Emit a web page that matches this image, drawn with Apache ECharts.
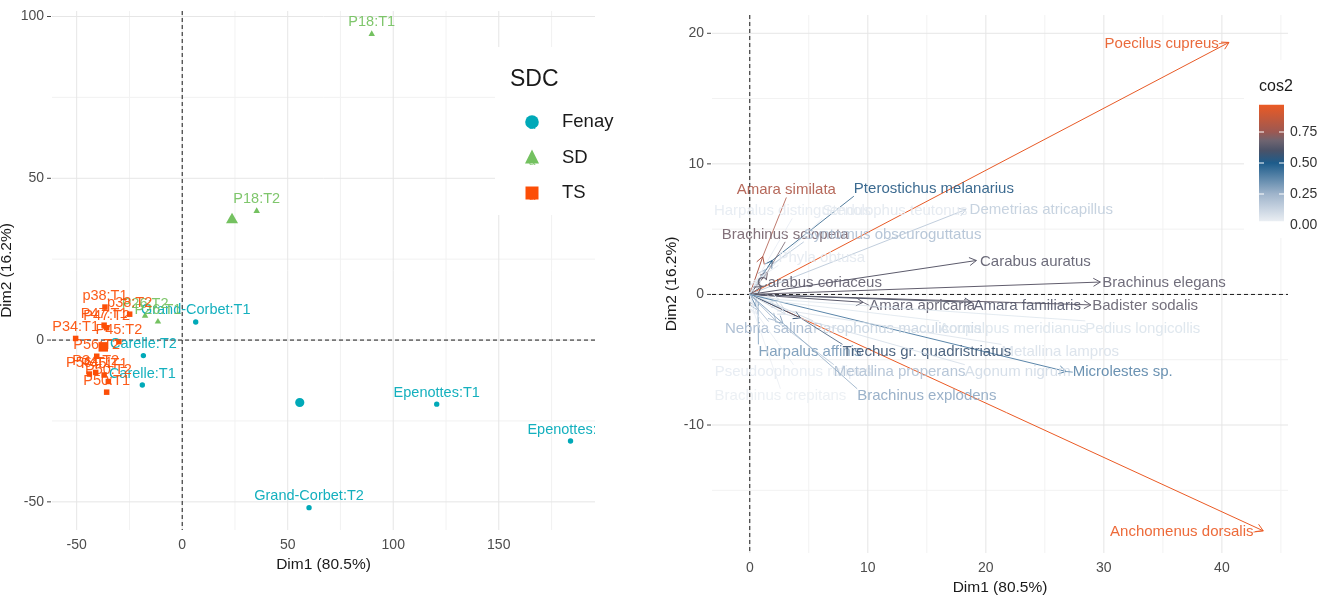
<!DOCTYPE html>
<html><head><meta charset="utf-8">
<script src="https://cdn.jsdelivr.net/npm/echarts@6/dist/echarts.min.js"></script>
<style>html,body{margin:0;padding:0;background:#fff}#c{width:1330px;height:595px}</style>
</head><body><div id="c"></div>
<script>
const FONT = '"Liberation Sans", Arial, sans-serif';

// ---------- LEFT PANEL: individuals ----------
const groupNames = ['Fenay', 'SD', 'TS'];
const indNames = ['Grand-Corbet:T1','Carelle:T2','Carelle:T1','Epenottes:T1','Epenottes:T2','Grand-Corbet:T2',
  'P18:T1','P18:T2','P26:T1','P26:T2',
  'p38:T1','p38:T2','P47:T2','P47:T1','P34:T1','P45:T2','P56:T2','P56:T1','P34:T2','P45:T1','P50:T2','P50:T1'];
const indX = [6.4,-18.4,-18.9,120.6,184.0,60.1, 89.8,35.3,-11.5,-17.6,
  -36.6,-24.9,-35.8,-37.0,-50.5,-30.0,-40.5,-44.0,-41.0,-37.0,-35.0,-35.8];
const indY = [5.6,-4.8,-13.9,-19.8,-31.2,-51.8, 94.7,40.0,5.8,7.6,
  10.2,8.0,3.8,4.6,0.5,-0.5,-5.0,-10.5,-10.0,-10.8,-12.8,-16.1];
const indGroup = [0,0,0,0,0,0, 1,1,1,1, 2,2,2,2,2,2,2,2,2,2,2,2];
const centroidX = [55.7, 23.6, -37.4];
const centroidY = [-19.3, 37.4, -2.1];

const leftXTicks = [-50, 0, 50, 100, 150];
const leftXMinor = [-25, 25, 75, 125, 175];
const leftYTicks = [-50, 0, 50, 100];
const leftYMinor = [-25, 25, 75];

// ---------- RIGHT PANEL: variables ----------
const varNames = ['Poecilus cupreus','Anchomenus dorsalis','Amara similata','Pterostichus melanarius','Brachinus sclopeta',
  'Harpalus distinguendus','Stenolophus teutonus','Demetrias atricapillus','Syntomus obscuroguttatus','Phyla obtusa',
  'Carabus auratus','Carabus coriaceus','Brachinus elegans','Badister sodalis','Amara familiaris','Amara apricaria',
  'Nebria salina','Parophonus maculicornis','Acupalpus meridianus','Pedius longicollis',
  'Harpalus affinis','Metallina lampros','Trechus gr. quadristriatus',
  'Pseudoophonus rufipes','Metallina properans','Agonum nigrum','Microlestes sp.',
  'Brachinus crepitans','Brachinus explodens'];
const varX = [40.6,43.5,1.1,1.9,1.5, 0.5,0.7,18.3,1.3,0.9, 19.2,1.0,29.7,28.9,18.8,9.6, 0.5,2.5,2.0,2.5, 0.7,3.0,4.3, 0.6,2.2,3.0,26.8, 0.4,2.8];
const varY = [19.3,-18.1,2.9,2.6,1.7, 1.0,1.1,6.5,1.9,1.3, 2.6,0.6,0.95,-0.8,-0.6,-0.6, -0.9,-0.9,-0.5,-0.4, -1.2,-1.2,-1.8, -1.5,-2.0,-1.5,-5.9, -1.5,-2.2];
const varCos2 = [0.96,0.97,0.80,0.52,0.69, 0.04,0.05,0.15,0.20,0.05, 0.64,0.65,0.65,0.66,0.62,0.64, 0.23,0.13,0.07,0.07, 0.33,0.08,0.57, 0.04,0.20,0.10,0.38, 0.03,0.28];
const varLabelX = [34.9,36.6,3.1,15.6,3.0, 3.6,12.3,24.7,12.1,6.1, 24.2,5.9,35.1,33.5,23.5,14.6, 1.6,12.5,22.3,33.3, 5.1,26.3,15.0, 3.7,12.7,22.7,31.6, 2.6,15.0];
const varLabelY = [19.2,-18.2,8.0,8.1,4.6, 6.4,6.4,6.5,4.6,2.8, 2.5,0.9,0.9,-0.84,-0.84,-0.84, -2.65,-2.6,-2.6,-2.6, -4.4,-4.4,-4.4, -5.95,-5.95,-5.95,-5.95, -7.8,-7.8];

const rightXTicks = [0, 10, 20, 30, 40];
const rightXMinor = [5, 15, 25, 35, 45];
const rightYTicks = [-10, 0, 10, 20];
const rightYMinor = [-15, -5, 5, 15];
const cos2Ticks = [0, 0.25, 0.5, 0.75];

// ---------- styles ----------
const groupColors = ['#00A9B8', '#74C160', '#FC4E07'];
const cos2StopVals = [0, 0.25, 0.5, 0.6, 0.68, 0.75, 1];
const cos2StopCols = ['#F4F6F9', '#9FB4CB', '#1D5C8B', '#4A5268', '#6E6470', '#9C5852', '#F65A1E'];

function hex2rgb(h){ return [parseInt(h.substr(1,2),16), parseInt(h.substr(3,2),16), parseInt(h.substr(5,2),16)]; }
function cos2Color(v){
  if (v <= cos2StopVals[0]) return cos2StopCols[0];
  for (let i = 1; i < cos2StopVals.length; i++) {
    if (v <= cos2StopVals[i]) {
      const t = (v - cos2StopVals[i-1]) / (cos2StopVals[i] - cos2StopVals[i-1]);
      const a = hex2rgb(cos2StopCols[i-1]), b = hex2rgb(cos2StopCols[i]);
      return 'rgb(' + a.map((c, k) => Math.round(c + (b[k]-c)*t)).join(',') + ')';
    }
  }
  return cos2StopCols[cos2StopCols.length-1];
}

const mctx = document.createElement('canvas').getContext('2d');
function textW(t, font){ mctx.font = font; return mctx.measureText(t).width; }

function gridRenderer(xMajor, xMinor, yMajor, yMinor){
  return function(params, api){
    const cs = params.coordSys;
    const x0 = cs.x, x1 = cs.x + cs.width, y0 = cs.y, y1 = cs.y + cs.height;
    const ch = [];
    const add = (vals, isX, col, lw) => vals.forEach(v => {
      const p = api.coord(isX ? [v, 0] : [0, v]);
      if (isX) ch.push({type:'line', shape:{x1:p[0], y1:y0, x2:p[0], y2:y1}, style:{stroke:col, lineWidth:lw}});
      else ch.push({type:'line', shape:{x1:x0, y1:p[1], x2:x1, y2:p[1]}, style:{stroke:col, lineWidth:lw}});
    });
    add(xMinor, true, '#F2F2F2', 1); add(yMinor, false, '#F2F2F2', 1);
    add(xMajor, true, '#E6E6E6', 1); add(yMajor, false, '#E6E6E6', 1);
    // y-axis tick marks
    yMajor.forEach(v => { const p = api.coord([0, v]);
      ch.push({type:'line', shape:{x1:x0-5, y1:p[1], x2:x0-1, y2:p[1]}, style:{stroke:'#444', lineWidth:1}}); });
    const o = api.coord([0, 0]);
    ch.push({type:'line', shape:{x1:o[0], y1:y0, x2:o[0], y2:y1}, style:{stroke:'#1A1A1A', lineWidth:1, lineDash:[4,3]}});
    ch.push({type:'line', shape:{x1:x0, y1:o[1], x2:x1, y2:o[1]}, style:{stroke:'#1A1A1A', lineWidth:1, lineDash:[4,3]}});
    return {type:'group', children:ch};
  };
}

function symbolEl(g, cx, cy, big){
  const col = groupColors[g];
  if (g === 0) return {type:'circle', shape:{cx:cx, cy:cy, r: big ? 4.6 : 2.7}, style:{fill:col}};
  if (g === 1) { const s = big ? 12 : 6.5, h = s*0.87;
    return {type:'polygon', shape:{points:[[cx, cy-h*0.6],[cx-s/2, cy+h*0.4],[cx+s/2, cy+h*0.4]]}, style:{fill:col}}; }
  const s = big ? 9.5 : 5.5;
  return {type:'rect', shape:{x:cx-s/2, y:cy-s/2, width:s, height:s}, style:{fill:col}};
}

const indPoints = indX.map((x, i) => [x, indY[i], indGroup[i], i]);
const centroidPts = centroidX.map((x, i) => [x, centroidY[i], i]);
const varArrows = varX.map((x, i) => [x, varY[i], varCos2[i], i]);
const varLabels = varLabelX.map((x, i) => [x, varLabelY[i], i]);

const LFONT = '14.5px ' + FONT;
const RFONT = '15px ' + FONT;

const labelStyle = {color:'#4D4D4D', fontSize:14, fontFamily:FONT};
const nameStyle = {color:'#1A1A1A', fontSize:15.5, fontFamily:FONT};

// legend graphics
const legendEls = [
  {type:'rect', shape:{x:495, y:47, width:135, height:168}, style:{fill:'#fff'}, z:100},
  {type:'text', x:510, y:80, style:{text:'SDC', font:'23px ' + FONT, fill:'#1A1A1A', verticalAlign:'middle'}, z:101}
];
groupNames.forEach((nm, i) => {
  const cy = 122 + 35.5*i, cx = 532;
  legendEls.push({type:'text', x:cx, y:cy+4, style:{text:'a', font:'12px ' + FONT, fill:groupColors[i], align:'center', verticalAlign:'middle', opacity:0.8}, z:101});
  const s = symbolEl(i, cx, cy, true);
  if (i === 0) s.shape.r = 6.8;
  if (i === 1) s.shape.points = [[cx, cy-8],[cx-7, cy+6],[cx+7, cy+6]];
  if (i === 2) s.shape = {x:cx-6.5, y:cy-6.5, width:13, height:13};
  s.z = 102;
  legendEls.push(s);
  legendEls.push({type:'text', x:562, y:cy, style:{text:nm, font:'18.5px ' + FONT, fill:'#1A1A1A', verticalAlign:'middle'}, z:101});
});

// colorbar graphics
const cmin = Math.min(...varCos2), cmax = Math.max(...varCos2);
const cbY = v => 225 - 124*v;
const cbStops = [{offset:0, color:cos2Color(cmin)}];
cos2StopVals.forEach((v, k) => { if (v > cmin && v < cmax) cbStops.push({offset:(v-cmin)/(cmax-cmin), color:cos2StopCols[k]}); });
cbStops.push({offset:1, color:cos2Color(cmax)});
const cbEls = [
  {type:'rect', shape:{x:1244, y:60, width:86, height:178}, style:{fill:'#fff'}, z:100},
  {type:'text', x:1259, y:87, style:{text:'cos2', font:'16px ' + FONT, fill:'#1A1A1A', verticalAlign:'middle'}, z:101},
  {type:'rect', shape:{x:1259, y:cbY(cmax), width:25, height:cbY(cmin)-cbY(cmax)},
    style:{fill:new echarts.graphic.LinearGradient(0, 1, 0, 0, cbStops)}, z:101}
];
cos2Ticks.forEach(v => {
  if (v > cmin) {
    cbEls.push({type:'line', shape:{x1:1259, y1:cbY(v), x2:1264, y2:cbY(v)}, style:{stroke:'#fff', lineWidth:1}, z:102});
    cbEls.push({type:'line', shape:{x1:1279, y1:cbY(v), x2:1284, y2:cbY(v)}, style:{stroke:'#fff', lineWidth:1}, z:102});
  }
  cbEls.push({type:'text', x:1290, y:cbY(v), style:{text:v.toFixed(2), font:'14px ' + FONT, fill:'#333', verticalAlign:'middle'}, z:101});
});

const option = {
  animation:false,
  backgroundColor:'#fff',
  grid:[{left:52, top:11, width:543, height:519, outerBoundsMode:'none', containLabel:false},
        {left:712, top:15, width:576, height:538, outerBoundsMode:'none', containLabel:false}],
  xAxis:[
    {gridIndex:0, type:'value', min:-61.7, max:195.6, axisLine:{show:false}, axisTick:{show:false}, splitLine:{show:false},
      axisLabel:{...labelStyle, margin:8, customValues:leftXTicks},
      name:'Dim1 (80.5%)', nameLocation:'middle', nameGap:24, nameTextStyle:nameStyle},
    {gridIndex:1, type:'value', min:-3.2, max:45.6, axisLine:{show:false}, axisTick:{show:false}, splitLine:{show:false},
      axisLabel:{...labelStyle, margin:8, customValues:rightXTicks},
      name:'Dim1 (80.5%)', nameLocation:'middle', nameGap:24, nameTextStyle:nameStyle}
  ],
  yAxis:[
    {gridIndex:0, type:'value', min:-58.7, max:101.7, axisLine:{show:false}, splitLine:{show:false}, axisTick:{show:false},
      axisLabel:{...labelStyle, margin:8, customValues:leftYTicks},
      name:'Dim2 (16.2%)', nameLocation:'middle', nameGap:37, nameTextStyle:nameStyle},
    {gridIndex:1, type:'value', min:-19.8, max:21.4, axisLine:{show:false}, splitLine:{show:false}, axisTick:{show:false},
      axisLabel:{...labelStyle, margin:8, customValues:rightYTicks},
      name:'Dim2 (16.2%)', nameLocation:'middle', nameGap:32, nameTextStyle:nameStyle}
  ],
  series:[
    {type:'custom', xAxisIndex:0, yAxisIndex:0, data:[[0,0]], z:1, silent:true, clip:false,
      renderItem:gridRenderer(leftXTicks, leftXMinor, leftYTicks, leftYMinor)},
    {type:'custom', xAxisIndex:1, yAxisIndex:1, data:[[0,0]], z:1, silent:true, clip:false,
      renderItem:gridRenderer(rightXTicks, rightXMinor, rightYTicks, rightYMinor)},
    // individual points
    {type:'custom', xAxisIndex:0, yAxisIndex:0, data:indPoints, z:3, clip:true,
      renderItem:(params, api) => {
        const p = api.coord([api.value(0), api.value(1)]);
        return symbolEl(api.value(2), p[0], p[1], false);
      }},
    // centroids
    {type:'custom', xAxisIndex:0, yAxisIndex:0, data:centroidPts, z:3, clip:true,
      renderItem:(params, api) => {
        const p = api.coord([api.value(0), api.value(1)]);
        return symbolEl(api.value(2), p[0], p[1], true);
      }},
    // individual labels
    {type:'custom', xAxisIndex:0, yAxisIndex:0, data:indPoints, z:4, clip:true,
      renderItem:(params, api) => {
        const p = api.coord([api.value(0), api.value(1)]);
        const i = api.value(3);
        return {type:'text', x:p[0], y:p[1]-11.5,
          style:{text:indNames[i], font:LFONT, fill:groupColors[api.value(2)], align:'center', verticalAlign:'middle', opacity:0.92}};
      }},
    // variable arrows
    {type:'custom', xAxisIndex:1, yAxisIndex:1, data:varArrows, z:3, clip:true,
      renderItem:(params, api) => {
        const o = api.coord([0, 0]);
        const t = api.coord([api.value(0), api.value(1)]);
        const col = cos2Color(api.value(2));
        const ang = Math.atan2(t[1]-o[1], t[0]-o[0]);
        const L = 8, A = Math.PI/6;
        const h1 = [t[0]-L*Math.cos(ang-A), t[1]-L*Math.sin(ang-A)];
        const h2 = [t[0]-L*Math.cos(ang+A), t[1]-L*Math.sin(ang+A)];
        return {type:'group', children:[
          {type:'line', shape:{x1:o[0], y1:o[1], x2:t[0], y2:t[1]}, style:{stroke:col, lineWidth:1}},
          {type:'polyline', shape:{points:[h1, t, h2]}, style:{stroke:col, lineWidth:1, fill:null}}
        ]};
      }},
    // variable labels with repel segments
    {type:'custom', xAxisIndex:1, yAxisIndex:1, data:varLabels, z:4, clip:true,
      renderItem:(params, api) => {
        const i = api.value(2);
        const c = api.coord([api.value(0), api.value(1)]);
        const t = api.coord([varX[i], varY[i]]);
        const col = cos2Color(varCos2[i]);
        const w = textW(varNames[i], RFONT), h = 15;
        const ch = [];
        const inside = Math.abs(t[0]-c[0]) <= w/2 && Math.abs(t[1]-c[1]) <= h/2;
        if (!inside) {
          const anchors = [];
          [-1, 0, 1].forEach(ax => [-1, 0, 1].forEach(ay => { if (ax || ay) anchors.push([c[0]+ax*w/2, c[1]+ay*h/2]); }));
          let best = anchors[0], bd = 1e9;
          anchors.forEach(a => { const d = Math.hypot(a[0]-t[0], a[1]-t[1]); if (d < bd) { bd = d; best = a; } });
          if (bd > 5) ch.push({type:'line', shape:{x1:best[0], y1:best[1], x2:t[0], y2:t[1]}, style:{stroke:col, lineWidth:0.8}});
        }
        ch.push({type:'text', x:c[0], y:c[1], style:{text:varNames[i], font:RFONT, fill:col, align:'center', verticalAlign:'middle', opacity:0.9}});
        return {type:'group', children:ch};
      }}
  ],
  graphic:{elements:[...legendEls, ...cbEls]}
};

const chart = echarts.init(document.getElementById('c'));
chart.setOption(option);
</script>
</body></html>
